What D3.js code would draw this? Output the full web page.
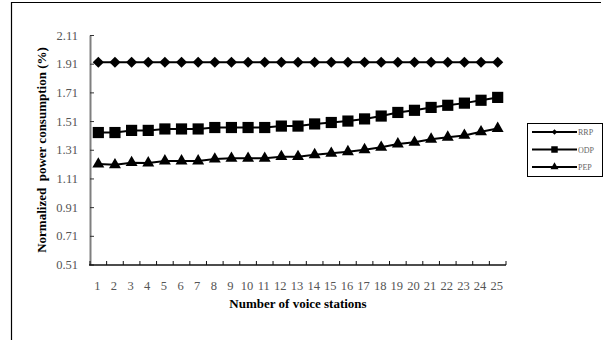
<!DOCTYPE html>
<html>
<head>
<meta charset="utf-8">
<script src="https://cdn.jsdelivr.net/npm/d3@7"></script>
<style>
  html, body { margin: 0; padding: 0; background: #fff; }
  svg { display: block; }
</style>
</head>
<body>
<svg id="chart" width="609" height="340"></svg>
<script>
const categories = d3.range(1, 26).map(String);
const yTicks = [0.51, 0.71, 0.91, 1.11, 1.31, 1.51, 1.71, 1.91, 2.11];
const seriesNames = ["RRP", "ODP", "PEP"];
const rrp = [1.92,1.92,1.92,1.92,1.92,1.92,1.92,1.92,1.92,1.92,1.92,1.92,1.92,1.92,1.92,1.92,1.92,1.92,1.92,1.92,1.92,1.92,1.92,1.92,1.92];
const odp = [1.43,1.43,1.445,1.445,1.455,1.455,1.455,1.465,1.465,1.465,1.465,1.475,1.475,1.49,1.50,1.51,1.525,1.545,1.57,1.585,1.605,1.62,1.635,1.655,1.675];
const pep = [1.21,1.205,1.22,1.218,1.232,1.232,1.232,1.245,1.25,1.25,1.25,1.262,1.262,1.275,1.285,1.296,1.31,1.327,1.35,1.362,1.383,1.397,1.41,1.435,1.458];

const svg = d3.select("#chart");
const serif = "'Liberation Serif', 'Times New Roman', serif";

// frame (top and left edges)
svg.append("path").attr("d", "M11.5,340 V2.5 H601").attr("fill", "none").attr("stroke", "#000").attr("stroke-width", 1.2);

const x = d3.scaleBand().domain(categories).range([90, 506]).paddingInner(0).paddingOuter(0);
const y = d3.scaleLinear().domain([0.51, 2.11]).range([264.5, 35]);

// y axis
const yAxis = svg.append("g").attr("transform", "translate(90,0)")
  .call(d3.axisLeft(y).tickValues(yTicks).tickFormat(d3.format(".2f")).tickSizeInner(-4).tickSizeOuter(0).tickPadding(12));
yAxis.select(".domain").attr("stroke", "#7f7f7f").attr("stroke-width", 2);
yAxis.selectAll(".tick line").attr("stroke", "#333").attr("stroke-width", 1);
yAxis.selectAll("text").attr("font-family", serif).attr("font-size", 12.5).attr("fill", "#555");

// x axis
const bounds = categories.map(c => x(c)).concat([x.range()[1]]);
const xg = svg.append("g");
xg.append("line").attr("x1", 89).attr("x2", 506).attr("y1", 265).attr("y2", 265)
  .attr("stroke", "#111").attr("stroke-width", 1.5);
xg.selectAll(".xt").data(bounds).join("line")
  .attr("x1", d => d).attr("x2", d => d).attr("y1", 265).attr("y2", 261)
  .attr("stroke", "#111").attr("stroke-width", 1);
xg.selectAll(".xl").data(categories).join("text")
  .attr("x", d => x(d) + x.bandwidth() / 2 - 1).attr("y", 290)
  .attr("text-anchor", "middle").attr("font-family", serif).attr("font-size", 12.5).attr("fill", "#555")
  .text(d => d);

// axis titles
svg.append("text").attr("x", 298).attr("y", 308).attr("text-anchor", "middle")
  .attr("font-family", serif).attr("font-size", 13).attr("font-weight", "bold").attr("fill", "#000")
  .text("Number of voice stations");
svg.append("text").attr("transform", "translate(46,150) rotate(-90)").attr("text-anchor", "middle")
  .attr("font-family", serif).attr("font-size", 13).attr("font-weight", "bold").attr("fill", "#000")
  .attr("xml:space", "preserve")
  .text("Normalized  power consumption (%)");

const cx = d => x(d) + x.bandwidth() / 2;
const data = [
  { name: seriesNames[0], values: rrp, symbol: d3.symbolSquare, rot: 45, size: 62, lsize: 16 },
  { name: seriesNames[1], values: odp, symbol: d3.symbolSquare, rot: 0, size: 125, lsize: 42 },
  { name: seriesNames[2], values: pep, symbol: d3.symbolTriangle, rot: 0, size: 62, lsize: 28 }
];

const line = d3.line().x((v, i) => cx(categories[i])).y(v => y(v));
data.forEach(s => {
  svg.append("path").attr("d", line(s.values)).attr("fill", "none").attr("stroke", "#000").attr("stroke-width", 2);
  svg.append("g").selectAll("path").data(s.values).join("path")
    .attr("transform", (v, i) => `translate(${cx(categories[i])},${y(v)}) rotate(${s.rot})`)
    .attr("d", d3.symbol().type(s.symbol).size(s.size)())
    .attr("fill", "#000");
});

// legend
const lg = svg.append("g");
lg.append("rect").attr("x", 527.5).attr("y", 123.5).attr("width", 75).attr("height", 53)
  .attr("fill", "#fff").attr("stroke", "#000").attr("stroke-width", 1);
data.forEach((s, i) => {
  const ly = 132 + i * 17.5;
  lg.append("line").attr("x1", 532).attr("x2", 577).attr("y1", ly).attr("y2", ly)
    .attr("stroke", "#000").attr("stroke-width", 2);
  lg.append("path").attr("transform", `translate(554.5,${ly}) rotate(${s.rot})`)
    .attr("d", d3.symbol().type(s.symbol).size(s.lsize)()).attr("fill", "#000");
  lg.append("text").attr("x", 578).attr("y", ly + 3).attr("font-family", serif).attr("font-size", 8)
    .attr("fill", "#666").text(s.name);
});
</script>
</body>
</html>
